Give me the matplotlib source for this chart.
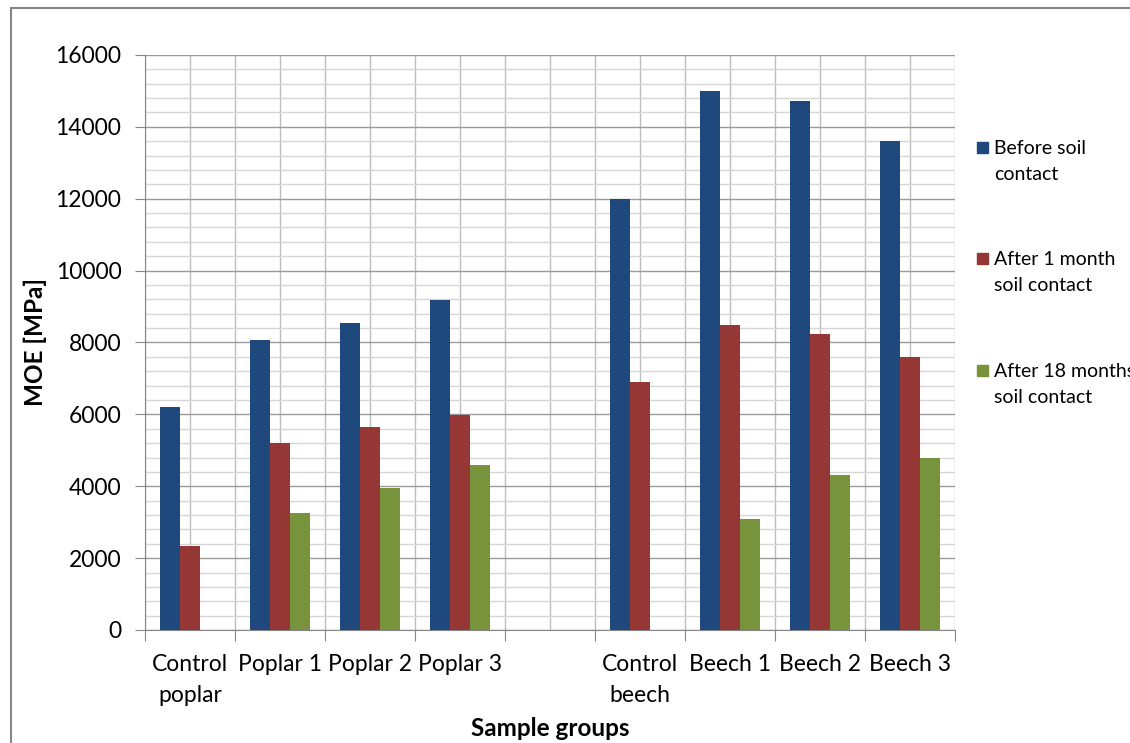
import numpy as np
import matplotlib
matplotlib.use("Agg")
import matplotlib.pyplot as plt
from matplotlib.patches import Rectangle
from matplotlib.ticker import MultipleLocator

plt.rcParams['font.family'] = ['Lato', 'DejaVu Sans']

# sample groups (one empty slot between poplar and beech)
groups = ["Control\npoplar", "Poplar 1", "Poplar 2", "Poplar 3", "",
          "Control\nbeech", "Beech 1", "Beech 2", "Beech 3"]
series = ["Before soil\ncontact", "After 1 month\nsoil contact", "After 18 months\nsoil contact"]
before = [6200, 8070, 8550, 9180, np.nan, 12000, 15000, 14720, 13620]
after_1m = [2350, 5200, 5650, 5980, np.nan, 6900, 8500, 8250, 7600]
after_18m = [np.nan, 3250, 3950, 4600, np.nan, np.nan, 3080, 4320, 4800]
colors = ["#1F497D", "#953735", "#77933C"]

fig = plt.figure(figsize=(11.3, 7.43), dpi=100)
ax = fig.add_axes([145/1130, 1-630/743, 810/1130, 575/743])

x = np.arange(len(groups)) + 0.5
w = 2/9
for k, vals in enumerate([before, after_1m, after_18m]):
    ax.bar(x + (k-1)*w, vals, width=w, color=colors[k], zorder=3)

ax.set_xlim(0, len(groups))
ax.set_ylim(0, 16000)

ax.yaxis.set_major_locator(MultipleLocator(2000))
ax.yaxis.set_minor_locator(MultipleLocator(400))
ax.set_xticks(np.arange(0, len(groups)+1))
ax.set_xticklabels([])
ax.set_xticks(x, minor=True)
ax.set_xticklabels(groups, minor=True, fontsize=16.5, linespacing=1.6)

ax.grid(True, axis='y', which='major', color='#9a9a9a', lw=1, zorder=0)
ax.grid(True, axis='y', which='minor', color='#d6d6d6', lw=1, zorder=0)
ax.grid(True, axis='x', which='both', color='#bdbdbd', lw=1, zorder=0)

ax.tick_params(axis='y', which='major', length=7, color='#868686', labelsize=16.5, pad=10)
ax.tick_params(axis='y', which='minor', length=0)
ax.tick_params(axis='x', which='major', length=8, color='#868686')
ax.tick_params(axis='x', which='minor', length=0, pad=17)

for s in ['top', 'right']:
    ax.spines[s].set_visible(False)
for s in ['left', 'bottom']:
    ax.spines[s].set_color('#868686')

ax.set_ylabel("MOE [MPa]", fontsize=17.5, fontweight='bold', labelpad=6)
fig.text(550/1130, 1-728/743, "Sample groups", fontsize=17.5, fontweight='bold',
         ha='center', va='center')

# legend on the right
leg_y = [147, 258, 370]
for k, lab in enumerate(series):
    fig.patches.append(Rectangle((977/1130, 1-(leg_y[k]+6)/743), 11/1130, 11/743,
                                 transform=fig.transFigure, color=colors[k]))
    fig.text(994/1130, 1-(leg_y[k]-7)/743, lab, fontsize=14, va='top', ha='left',
             linespacing=1.65)

# chart border
fig.patches.append(Rectangle((11/1130, -0.05), 1.2, 1.05-8/743, transform=fig.transFigure,
                             fill=False, edgecolor='#868686', lw=1.5))

fig.savefig("out.png", dpi=100)
